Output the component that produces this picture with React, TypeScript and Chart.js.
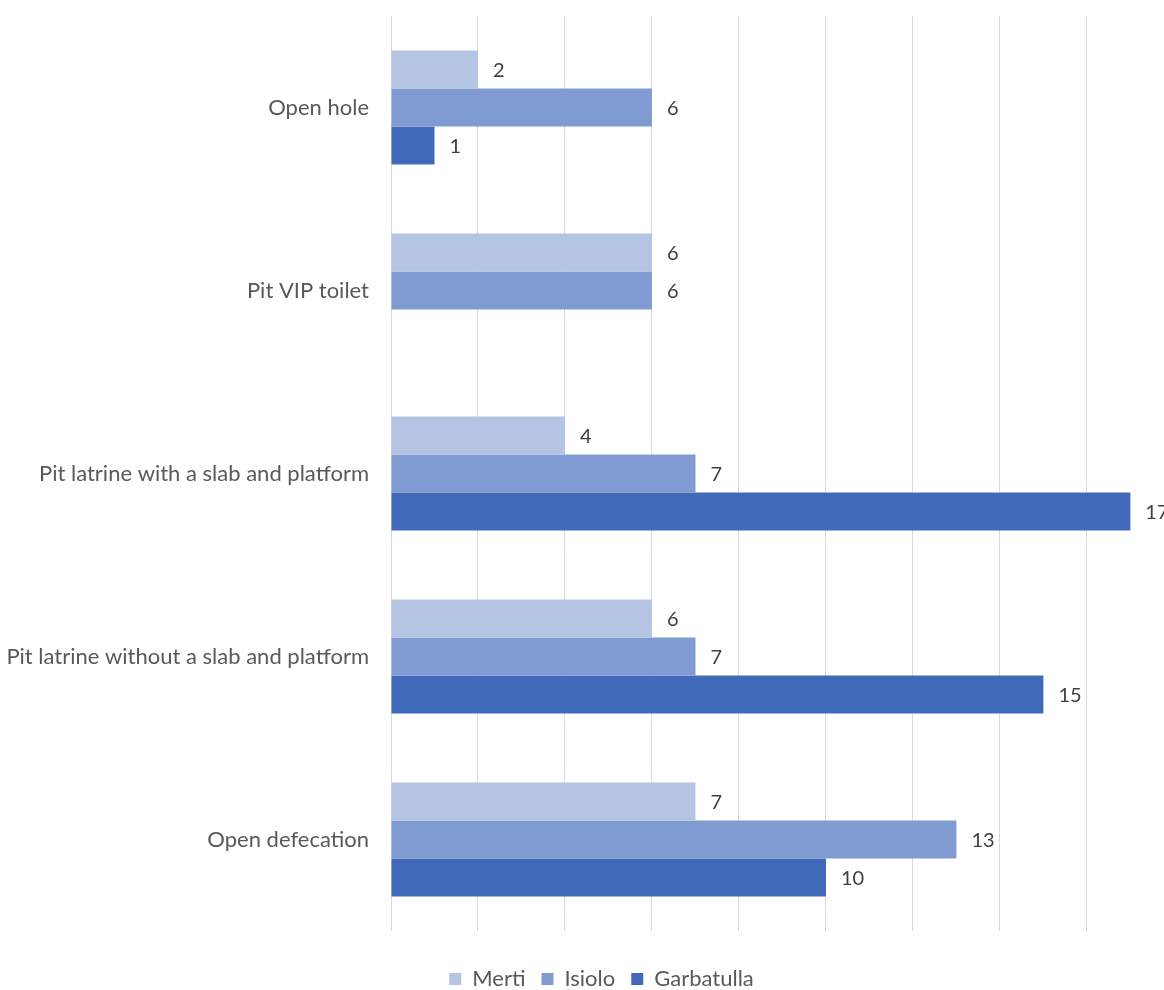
import React, { useEffect, useRef } from "react";
import { Chart, registerables } from "chart.js";

Chart.register(...registerables);

const categories = [
  "Open hole",
  "Pit VIP toilet",
  "Pit latrine with a slab and platform",
  "Pit latrine without a slab and platform",
  "Open defecation",
];

const merti = [2, 6, 4, 6, 7];
const isiolo = [6, 6, 7, 7, 13];
const garbatulla: (number | null)[] = [1, null, 17, 15, 10];

const seriesNames = ["Merti", "Isiolo", "Garbatulla"];
const seriesColors = ["#B4C5E4", "#7F9BD2", "#4169BA"];

// value axis: gridlines every 2 units, plot runs a little past 18
const xMin = 0;
const xMax = 18.67;
const xStep = 2;

const FONT = "Lato, 'Open Sans', sans-serif";

// Writes each bar's value just past its end
const valueLabels = {
  id: "valueLabels",
  afterDatasetsDraw(chart: any) {
    const ctx = chart.ctx;
    ctx.save();
    ctx.font = `20px ${FONT}`;
    ctx.fillStyle = "#404040";
    ctx.textAlign = "left";
    ctx.textBaseline = "middle";
    chart.data.datasets.forEach((ds: any, i: number) => {
      const meta = chart.getDatasetMeta(i);
      meta.data.forEach((el: any, j: number) => {
        const v = ds.data[j];
        if (v === null || v === undefined) return;
        ctx.fillText(String(v), el.x + 15, el.y + 1);
      });
    });
    ctx.restore();
  },
};

export default function App() {
  const ref = useRef<HTMLCanvasElement | null>(null);

  useEffect(() => {
    if (!ref.current) return;
    const chart = new Chart(ref.current, {
      type: "bar",
      data: {
        labels: categories,
        datasets: [merti, isiolo, garbatulla].map((d, i) => ({
          label: seriesNames[i],
          data: d,
          backgroundColor: seriesColors[i],
          borderWidth: 0,
          categoryPercentage: 0.624,
          barPercentage: 1,
        })),
      },
      options: {
        indexAxis: "y",
        animation: false,
        responsive: false,
        layout: { padding: { top: 16, right: 0, left: 0, bottom: 0 } },
        scales: {
          x: {
            min: xMin,
            max: xMax,
            ticks: { display: false, stepSize: xStep },
            grid: { color: "#D9D9D9", lineWidth: 1, drawTicks: false },
            border: { display: false },
            afterFit(scale: any) {
              scale.height = 21;
            },
          },
          y: {
            ticks: {
              color: "#595959",
              font: { family: FONT, size: 22 },
              padding: 22,
            },
            grid: { display: false, drawTicks: false },
            border: { display: false },
            afterFit(scale: any) {
              scale.width = 391;
              scale.paddingTop = 0;
              scale.paddingBottom = 0;
            },
          },
        },
        plugins: {
          legend: {
            position: "bottom",
            labels: {
              color: "#595959",
              font: { family: FONT, size: 22 },
              boxWidth: 12,
              boxHeight: 12,
              padding: 16,
            },
          },
          tooltip: { enabled: false },
        },
      },
      plugins: [valueLabels],
    });
    return () => chart.destroy();
  }, []);

  return (
    <div
      style={{
        position: "fixed",
        left: 0,
        top: 0,
        width: 1164,
        height: 990,
        overflow: "hidden",
        background: "#fff",
      }}
    >
      <canvas ref={ref} width={1203} height={1000} />
    </div>
  );
}
